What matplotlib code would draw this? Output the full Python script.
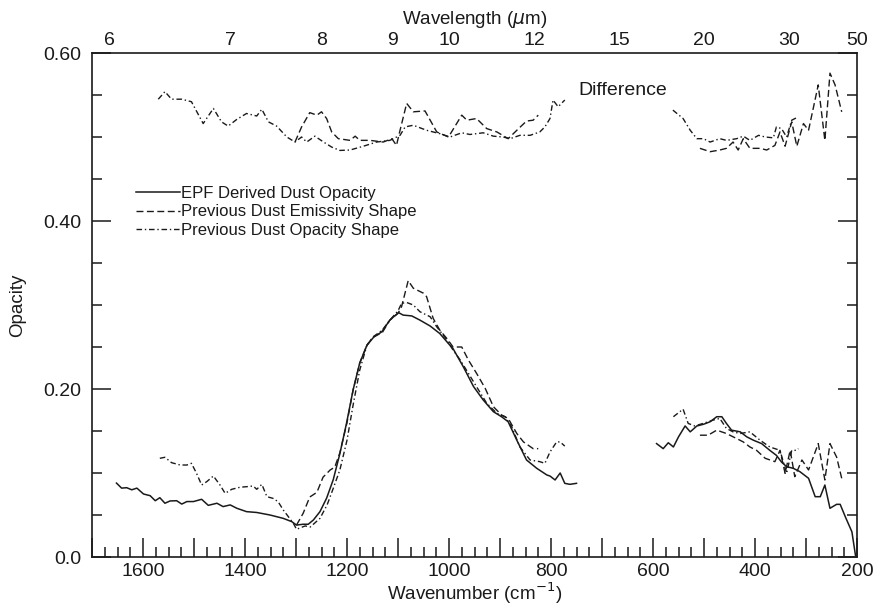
import matplotlib
matplotlib.use('Agg')
import matplotlib.pyplot as plt
from matplotlib.ticker import MultipleLocator, FixedLocator, FixedFormatter
from matplotlib import font_manager

# 字体: 窄体无衬线, 找不到就退回 DejaVu
names = {f.name for f in font_manager.fontManager.ttflist}
fam = [n for n in ['Liberation Sans Narrow', 'Liberation Sans', 'DejaVu Sans'] if n in names]
plt.rcParams['font.family'] = fam
plt.rcParams['mathtext.fontset'] = 'dejavusans'

# ---- 数据 (波数 cm^-1, 不透明度) ----
# EPF derived dust opacity
epf1_wn = [1652, 1642, 1632, 1622, 1612, 1599, 1586, 1576, 1567, 1557, 1547, 1534, 1524, 1514, 1501,
           1485, 1472, 1455, 1443, 1429, 1416, 1397, 1377, 1351, 1325, 1308, 1299, 1286, 1276, 1266,
           1253, 1240, 1227, 1214, 1201, 1188, 1175, 1161, 1148, 1132, 1116, 1099, 1090, 1073, 1057,
           1037, 1018, 1001, 992, 972, 952, 933, 913, 897, 884, 867, 848, 828, 808, 802, 792, 782,
           773, 763, 750]
epf1_val = [0.088, 0.082, 0.0825, 0.080, 0.082, 0.075, 0.073, 0.067, 0.0706, 0.064, 0.0667, 0.067,
            0.063, 0.066, 0.066, 0.0687, 0.0615, 0.064, 0.060, 0.062, 0.058, 0.054, 0.053, 0.050,
            0.046, 0.042, 0.038, 0.039, 0.039, 0.044, 0.054, 0.070, 0.092, 0.123, 0.159, 0.199,
            0.231, 0.252, 0.2615, 0.268, 0.282, 0.291, 0.288, 0.287, 0.282, 0.275, 0.266, 0.254,
            0.248, 0.2265, 0.203, 0.187, 0.173, 0.167, 0.161, 0.139, 0.1155, 0.1056, 0.0976,
            0.0964, 0.0917, 0.100, 0.0877, 0.0865, 0.0877]
epf2_wn = [593, 580, 570, 560, 550, 537, 527, 514, 501, 488, 475, 465, 456, 446, 429, 416, 403, 387,
           371, 358, 348, 338, 325, 312, 295, 282, 272, 263, 253, 240, 233, 223, 210, 203]
epf2_val = [0.135, 0.129, 0.136, 0.131, 0.143, 0.156, 0.149, 0.156, 0.158, 0.161, 0.167, 0.167,
            0.159, 0.151, 0.149, 0.143, 0.139, 0.135, 0.127, 0.121, 0.113, 0.1075, 0.1056, 0.1016,
            0.0937, 0.0718, 0.0718, 0.0857, 0.058, 0.0627, 0.0627, 0.048, 0.030, 0.002]

# Previous dust emissivity shape
emis1_wn = [1299, 1286, 1273, 1259, 1247, 1233, 1224, 1214, 1200, 1188, 1175, 1161, 1149, 1131, 1116,
            1100, 1093, 1080, 1070, 1050, 1044, 1031, 1018, 1004, 992, 975, 962, 946, 929, 913, 897,
            884, 867, 854, 835, 825]
emis1_val = [0.038, 0.052, 0.0714, 0.077, 0.095, 0.1036, 0.107, 0.124, 0.16, 0.199, 0.231, 0.252,
             0.262, 0.267, 0.282, 0.290, 0.298, 0.329, 0.320, 0.314, 0.310, 0.284, 0.270, 0.260,
             0.250, 0.250, 0.2345, 0.2187, 0.2008, 0.179, 0.169, 0.165, 0.147, 0.137, 0.129, 0.129]
emis2_wn = [508, 492, 475, 456, 436, 423, 410, 397, 380, 361, 351, 341, 331, 322, 308, 295, 276, 263,
            253, 240, 230]
emis2_val = [0.145, 0.145, 0.151, 0.147, 0.141, 0.137, 0.131, 0.127, 0.1175, 0.1135, 0.127, 0.0996,
             0.127, 0.0956, 0.1155, 0.1036, 0.135, 0.0917, 0.135, 0.119, 0.0937]

# Previous dust opacity shape
opac1_wn = [1567, 1557, 1544, 1527, 1514, 1505, 1495, 1485, 1475, 1462, 1449, 1439, 1426, 1410, 1397,
            1384, 1377, 1367, 1357, 1345, 1335, 1325, 1315, 1305, 1299, 1282, 1272, 1253, 1239, 1228,
            1214, 1200, 1188, 1175, 1161, 1149, 1131, 1116, 1100, 1093, 1083, 1070, 1057, 1037, 1024,
            1008, 992, 978, 962, 946, 926, 906, 890, 877, 861, 841, 822, 812, 802, 789, 782, 773]
opac1_val = [0.1175, 0.1187, 0.1123, 0.1095, 0.1095, 0.1115, 0.0996, 0.0857, 0.0897, 0.0964, 0.0857,
             0.0758, 0.0806, 0.083, 0.0837, 0.0845, 0.0806, 0.0865, 0.0718, 0.0698, 0.0658, 0.056,
             0.048, 0.040, 0.033, 0.037, 0.0357, 0.046, 0.062, 0.080, 0.1036, 0.139, 0.181, 0.2226,
             0.252, 0.262, 0.270, 0.282, 0.293, 0.302, 0.303, 0.300, 0.292, 0.286, 0.274, 0.2615,
             0.2464, 0.2345, 0.2187, 0.2027, 0.183, 0.171, 0.167, 0.155, 0.131, 0.1155, 0.1135,
             0.1115, 0.125, 0.137, 0.137, 0.132]
opac2_wn = [560, 541, 531, 518, 502, 482, 469, 456, 443, 429, 410, 390, 371, 351, 338, 328, 318, 315]
opac2_val = [0.167, 0.176, 0.159, 0.156, 0.159, 0.163, 0.165, 0.153, 0.149, 0.147, 0.149, 0.139,
             0.131, 0.127, 0.0996, 0.127, 0.127, 0.129]

# "Difference" 曲线 (图上位置, 已含偏移)
d_opac1_wn = [1570, 1557, 1544, 1524, 1505, 1482, 1462, 1446, 1433, 1416, 1397, 1377, 1367, 1354,
              1338, 1318, 1302, 1289, 1279, 1263, 1246, 1230, 1214, 1194, 1168, 1142, 1116, 1096,
              1086, 1070, 1044, 1018, 998, 975, 959, 933, 913, 894, 880, 861, 841, 822, 812, 802,
              796, 786, 773]
d_opac1_val = [0.545, 0.554, 0.545, 0.545, 0.542, 0.516, 0.534, 0.518, 0.513, 0.521, 0.528, 0.525,
               0.533, 0.518, 0.513, 0.500, 0.494, 0.500, 0.494, 0.501, 0.494, 0.488, 0.484, 0.4845,
               0.489, 0.494, 0.496, 0.502, 0.512, 0.514, 0.508, 0.504, 0.500, 0.505, 0.503, 0.505,
               0.501, 0.500, 0.498, 0.502, 0.502, 0.506, 0.512, 0.522, 0.544, 0.536, 0.544]
d_emis1_wn = [1302, 1289, 1273, 1259, 1250, 1240, 1230, 1217, 1194, 1184, 1175, 1155, 1129, 1112,
              1103, 1096, 1083, 1070, 1047, 1024, 1001, 975, 965, 946, 926, 906, 884, 867, 848, 835,
              825]
d_emis1_val = [0.494, 0.512, 0.529, 0.526, 0.530, 0.522, 0.506, 0.498, 0.496, 0.501, 0.496, 0.496,
               0.494, 0.498, 0.490, 0.508, 0.540, 0.530, 0.531, 0.506, 0.500, 0.526, 0.520, 0.522,
               0.510, 0.506, 0.498, 0.508, 0.519, 0.520, 0.526]
d_opac2_wn = [561, 541, 527, 514, 501, 488, 469, 456, 436, 423, 410, 393, 380, 364, 358, 348, 338,
              328, 315]
d_opac2_val = [0.532, 0.522, 0.508, 0.498, 0.498, 0.494, 0.498, 0.496, 0.498, 0.501, 0.496, 0.502,
               0.500, 0.499, 0.512, 0.510, 0.500, 0.520, 0.524]
d_emis2_wn = [508, 488, 469, 456, 443, 433, 423, 410, 390, 377, 361, 351, 341, 328, 318, 305, 295,
              276, 263, 253, 243, 230]
d_emis2_val = [0.4865, 0.4825, 0.4845, 0.4865, 0.494, 0.4845, 0.498, 0.4865, 0.4865, 0.4845, 0.490,
               0.506, 0.489, 0.518, 0.489, 0.516, 0.508, 0.562, 0.496, 0.576, 0.562, 0.530]

# 顶部波长刻度 (μm)
wl_labels = [6, 7, 8, 9, 10, 12, 15, 20, 30, 50]
y_ticks = [0.0, 0.2, 0.4, 0.6]
y_ticklabels = ['0.0', '0.20', '0.40', '0.60']

# ---- 绘图 ----
ink = '#1a1a1a'
solid = dict(color=ink, lw=1.1, ls='-')
dashed = dict(color=ink, lw=1.0, ls=(0, (5, 2.5)))
dashdot = dict(color=ink, lw=1.0, ls=(0, (4, 2, 1, 2)))

fig = plt.figure(figsize=(8.75, 6.07), dpi=100)
ax = fig.add_axes([92 / 875, 50 / 607, 765 / 875, 504 / 607])

ax.plot(epf1_wn, epf1_val, label='EPF Derived Dust Opacity', **solid)
ax.plot(epf2_wn, epf2_val, **solid)
ax.plot(emis1_wn, emis1_val, label='Previous Dust Emissivity Shape', **dashed)
ax.plot(emis2_wn, emis2_val, **dashed)
ax.plot(opac1_wn, opac1_val, label='Previous Dust Opacity Shape', **dashdot)
ax.plot(opac2_wn, opac2_val, **dashdot)
ax.plot(d_emis1_wn, d_emis1_val, **dashed)
ax.plot(d_emis2_wn, d_emis2_val, **dashed)
ax.plot(d_opac1_wn, d_opac1_val, **dashdot)
ax.plot(d_opac2_wn, d_opac2_val, **dashdot)

ax.text(747, 0.555, 'Difference', fontsize=14, color=ink, va='center', ha='left')

ax.set_xlim(1700, 200)
ax.set_ylim(0, 0.6)

# 刻度: 向内, 四边都有; 每 100 长刻度, 25 短刻度
x_major = list(range(200, 1701, 100))
ax.xaxis.set_major_locator(FixedLocator(x_major))
ax.xaxis.set_major_formatter(FixedFormatter([str(w) if w % 200 == 0 else '' for w in x_major]))
ax.xaxis.set_minor_locator(FixedLocator([w for w in range(200, 1701, 25) if w % 100 != 0]))
ax.yaxis.set_major_locator(FixedLocator(y_ticks))
ax.yaxis.set_major_formatter(FixedFormatter(y_ticklabels))
ax.yaxis.set_minor_locator(MultipleLocator(0.05))
ax.tick_params(which='both', direction='in', top=True, right=True, labelsize=14, colors=ink,
               width=1.1)
ax.tick_params(axis='x', pad=4)
ax.tick_params(axis='y', pad=8)
ax.tick_params(which='major', length=13.5)
ax.tick_params(which='minor', length=7)
for s in ax.spines.values():
    s.set_linewidth(1.2)
    s.set_color(ink)

ax.set_xlabel('Wavenumber (cm$^{-1}$)', fontsize=13.5, color=ink, labelpad=1)
ax.set_ylabel('Opacity', fontsize=13.5, color=ink, labelpad=12)

# 顶部波长轴, 只放标签
ax2 = ax.twiny()
ax2.set_xlim(ax.get_xlim())
ax2.set_xticks([1e4 / w for w in wl_labels])
ax2.set_xticklabels([str(w) for w in wl_labels])
ax2.tick_params(length=0, labelsize=14, colors=ink, pad=3)
ax2.set_xlabel('Wavelength ($\\mu$m)', fontsize=13.5, color=ink, labelpad=6)
for s in ax2.spines.values():
    s.set_visible(False)

ax.legend(loc='upper left', bbox_to_anchor=(0.058, 0.737), frameon=False, fontsize=12,
          handlelength=2.6, handletextpad=0.1, labelspacing=0.23, borderpad=0, borderaxespad=0,
          labelcolor=ink)

fig.savefig('out.png', dpi=100)
